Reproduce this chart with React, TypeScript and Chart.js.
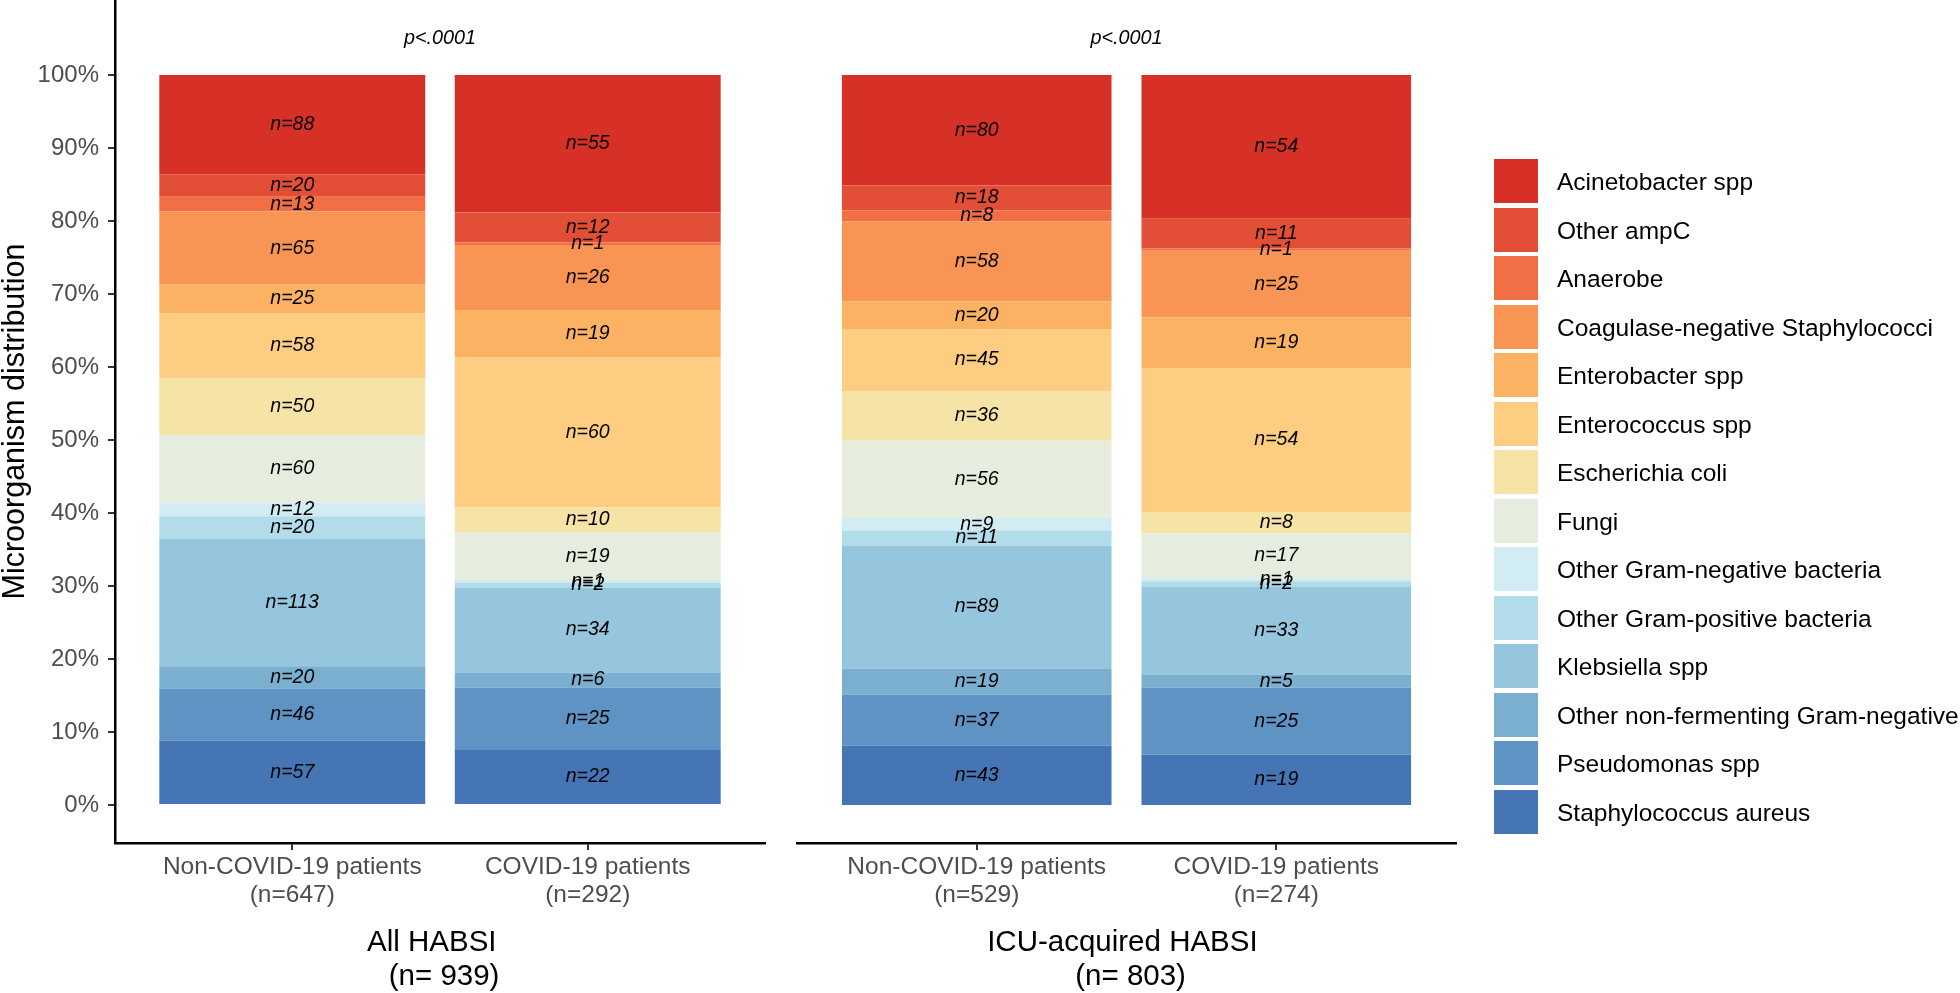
import React, { useEffect, useRef } from 'react';
import { Chart, registerables } from 'chart.js';

Chart.register(...registerables);

const FONT = "'Liberation Sans', Arial, Helvetica, sans-serif";

// Stack order: bottom -> top
const organisms = [
  'Staphylococcus aureus',
  'Pseudomonas spp',
  'Other non-fermenting Gram-negative',
  'Klebsiella spp',
  'Other Gram-positive bacteria',
  'Other Gram-negative bacteria',
  'Fungi',
  'Escherichia coli',
  'Enterococcus spp',
  'Enterobacter spp',
  'Coagulase-negative Staphylococci',
  'Anaerobe',
  'Other ampC',
  'Acinetobacter spp',
];

const colors = [
  '#4575B4',
  '#5F93C4',
  '#7AAFD0',
  '#96C6DE',
  '#B3DCEA',
  '#D1ECF3',
  '#E6EDDE',
  '#F6E3A6',
  '#FDCD81',
  '#FCB263',
  '#F89554',
  '#F26E44',
  '#E34F36',
  '#D73027',
];

// Counts per organism (same order as above)
const allNonCovid = [57, 46, 20, 113, 20, 12, 60, 50, 58, 25, 65, 13, 20, 88];
const allCovid = [22, 25, 6, 34, 2, 1, 19, 10, 60, 19, 26, 1, 12, 55];
const icuNonCovid = [43, 37, 19, 89, 11, 9, 56, 36, 45, 20, 58, 8, 18, 80];
const icuCovid = [19, 25, 5, 33, 2, 1, 17, 8, 54, 19, 25, 1, 11, 54];

const allGroupLabels = [
  ['Non-COVID-19 patients', '(n=647)'],
  ['COVID-19 patients', '(n=292)'],
];
const icuGroupLabels = [
  ['Non-COVID-19 patients', '(n=529)'],
  ['COVID-19 patients', '(n=274)'],
];

const allPanelTitle = ['All HABSI  ', ' (n= 939)'];
const icuPanelTitle = ['ICU-acquired HABSI ', ' (n= 803)'];

const pValueText = 'p<.0001';
const P_LEVEL = 1.05;

const yTickValues = [0, 0.1, 0.2, 0.3, 0.4, 0.5, 0.6, 0.7, 0.8, 0.9, 1.0];
const Y_MIN = -0.05205;
const Y_MAX = 1.10274;

const sum = (a: number[]) => a.reduce((s, v) => s + v, 0);

function makeConfig(
  groups: number[][],
  groupLabels: string[][],
  panelTitle: string[],
  showY: boolean,
  padLeft: number,
  padRight: number
): any {
  const totals = groups.map(sum);
  const datasets = organisms.map((name, i) => ({
    label: name,
    data: groups.map((g, j) => ({ x: j + 1, y: g[i] / totals[j] })),
    backgroundColor: colors[i],
    borderWidth: 0,
    barPercentage: 0.9,
    categoryPercentage: 1,
  }));

  const labelPlugin = {
    id: 'segLabels',
    afterDatasetsDraw(chart: any) {
      const ctx = chart.ctx;
      ctx.save();
      ctx.fillStyle = '#000';
      ctx.textAlign = 'center';
      ctx.textBaseline = 'middle';
      ctx.font = `italic 19.5px ${FONT}`;
      chart.data.datasets.forEach((_ds: any, i: number) => {
        const meta = chart.getDatasetMeta(i);
        meta.data.forEach((el: any, j: number) => {
          const n = groups[j][i];
          if (!n) return;
          ctx.fillText(`n=${n}`, el.x, (el.y + el.base) / 2);
        });
      });
      ctx.font = `italic 19.8px ${FONT}`;
      ctx.fillText(
        pValueText,
        chart.scales.x.getPixelForValue(1.5),
        chart.scales.y.getPixelForValue(P_LEVEL)
      );
      ctx.restore();
    },
  };

  return {
    type: 'bar',
    data: { datasets },
    plugins: [labelPlugin],
    options: {
      responsive: false,
      animation: false,
      devicePixelRatio: 1,
      events: [],
      layout: { padding: { left: padLeft, right: padRight, top: 0, bottom: 0 } },
      plugins: { legend: { display: false }, tooltip: { enabled: false } },
      scales: {
        x: {
          type: 'linear',
          min: 0.4,
          max: 2.6,
          stacked: true,
          offset: false,
          afterBuildTicks: (s: any) => {
            s.ticks = [{ value: 1 }, { value: 2 }];
          },
          ticks: {
            autoSkip: false,
            maxRotation: 0,
            minRotation: 0,
            padding: 3,
            color: '#4D4D4D',
            font: { family: FONT, size: 24.5, lineHeight: 1.143 },
            callback: (v: number) => groupLabels[Math.round(v) - 1] ?? '',
          },
          grid: {
            display: true,
            offset: false,
            drawOnChartArea: false,
            drawTicks: true,
            tickLength: 7,
            tickColor: '#333333',
            lineWidth: 2,
          },
          border: { display: true, color: '#000000', width: 2.5 },
          title: {
            display: true,
            text: panelTitle,
            color: '#000000',
            font: { family: FONT, size: 29.5, lineHeight: 1.153 },
            padding: { top: 0, bottom: 6 },
          },
          afterFit: (s: any) => {
            s.height = 157;
            s.paddingLeft = 0;
            s.paddingRight = 0;
          },
        },
        y: {
          type: 'linear',
          display: showY,
          min: Y_MIN,
          max: Y_MAX,
          stacked: true,
          afterBuildTicks: (s: any) => {
            s.ticks = yTickValues.map((v) => ({ value: v }));
          },
          ticks: {
            padding: 9,
            color: '#4D4D4D',
            font: { family: FONT, size: 24 },
            callback: (v: number) => `${Math.round(v * 100)}%`,
          },
          grid: {
            display: true,
            drawOnChartArea: false,
            drawTicks: true,
            tickLength: 7,
            tickColor: '#333333',
            lineWidth: 2,
          },
          border: { display: true, color: '#000000', width: 2.5 },
          title: {
            display: true,
            text: 'Microorganism distribution',
            color: '#000000',
            font: { family: FONT, size: 30.5, lineHeight: 1 },
            padding: 0,
          },
          afterFit: (s: any) => {
            s.width = showY ? 115 : 0;
            s.paddingTop = 0;
            s.paddingBottom = 0;
          },
        },
      },
    },
  };
}

const legendOrder = organisms.map((_, i) => organisms.length - 1 - i);

export default function App() {
  const refA = useRef<HTMLCanvasElement>(null);
  const refB = useRef<HTMLCanvasElement>(null);

  useEffect(() => {
    const a = new Chart(
      refA.current!,
      makeConfig([allNonCovid, allCovid], allGroupLabels, allPanelTitle, true, 0, 1960 - 765)
    );
    const b = new Chart(
      refB.current!,
      makeConfig([icuNonCovid, icuCovid], icuGroupLabels, icuPanelTitle, false, 797, 1960 - 1456)
    );
    return () => {
      a.destroy();
      b.destroy();
    };
  }, []);

  const canvasStyle: React.CSSProperties = {
    position: 'absolute',
    left: 0,
    top: 0,
    width: 1960,
    height: 1000,
  };

  return (
    <div
      style={{
        position: 'absolute',
        left: 0,
        top: 0,
        width: 1960,
        height: 993,
        overflow: 'hidden',
        background: '#ffffff',
      }}
    >
      <canvas ref={refA} width={1960} height={1000} style={canvasStyle} />
      <canvas ref={refB} width={1960} height={1000} style={canvasStyle} />
      {legendOrder.map((i, k) => (
        <div
          key={organisms[i]}
          style={{
            position: 'absolute',
            left: 1494,
            top: 159 + k * 48.5,
            height: 44,
            display: 'flex',
            alignItems: 'center',
            whiteSpace: 'nowrap',
          }}
        >
          <div style={{ width: 44, height: 44, background: colors[i], flex: 'none' }} />
          <span
            style={{
              marginLeft: 19,
              fontFamily: FONT,
              fontSize: 24.5,
              lineHeight: '44px',
              color: '#000000',
              position: 'relative',
              top: 1,
            }}
          >
            {organisms[i]}
          </span>
        </div>
      ))}
    </div>
  );
}
